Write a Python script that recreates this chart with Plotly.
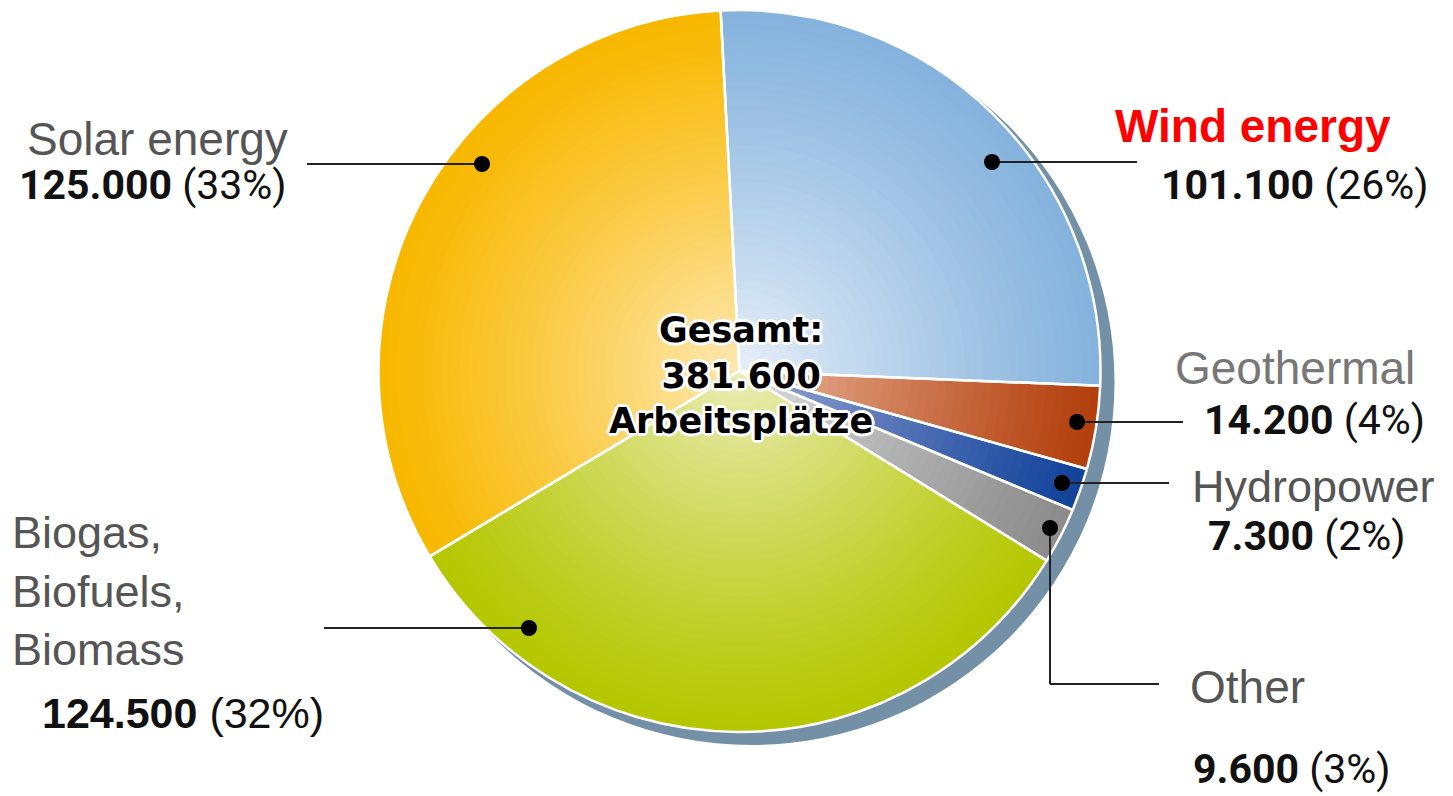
import plotly.graph_objects as go

# ---------------- data ----------------
categories = ["Wind energy", "Geothermal", "Hydropower", "Other",
              "Biogas, Biofuels, Biomass", "Solar energy"]
jobs = [101100, 14200, 7300, 9600, 124500, 125000]
percent = [26, 4, 2, 3, 32, 33]
total_jobs = 381600

# ---------------- style ----------------
OFF = 8                                   # default page body margin
W, H = 1453 - OFF, 796 - OFF
CX, CY, R = 739.5, 371.0, 361.0          # pie centre / radius in page px
SH_DX, SH_DY, SH_DR = 12.0, 11.0, 2.0     # drop shadow offset
edge_cols = ["#86B3DD", "#B3400E", "#13449A", "#8C8C8C", "#B4C700", "#F8B800"]
center_cols = ["#E8F0F9", "#EDBBA2", "#9EA9D8", "#DEDEDE", "#EAEDB8", "#FEE9B6"]
ROT = -3
N_RINGS = 40


def px(x):
    return (x - OFF) / W


def py(y):
    return 1 - (y - OFF) / H


def dom(cx, cy, r):
    return dict(x=[px(cx - r), px(cx + r)], y=[py(cy + r), py(cy - r)])


def hex2rgb(h):
    h = h.lstrip("#")
    return [int(h[i:i + 2], 16) for i in (0, 2, 4)]


def blend(a, b, t):
    ca, cb = hex2rgb(a), hex2rgb(b)
    c = [round(ca[i] + (cb[i] - ca[i]) * t) for i in range(3)]
    return "rgb(%d,%d,%d)" % tuple(c)


fig = go.Figure()

# drop shadow
fig.add_trace(go.Pie(values=[1], labels=["shadow"], marker=dict(colors=["#7390A7"], line=dict(width=0)),
                     textinfo="none", hoverinfo="skip", showlegend=False, sort=False,
                     domain=dom(CX + SH_DX, CY + SH_DY, R + SH_DR)))

# radial gradient rings (largest first)
for k in range(N_RINGS):
    r = R * (N_RINGS - k) / N_RINGS
    t = (1 - r / R) ** 1.15
    cols = [blend(e, c, t) for e, c in zip(edge_cols, center_cols)]
    fig.add_trace(go.Pie(values=jobs, labels=categories, sort=False, direction="clockwise",
                         rotation=ROT, marker=dict(colors=cols, line=dict(width=0)),
                         textinfo="none", hoverinfo="skip", showlegend=False,
                         domain=dom(CX, CY, r)))

# white slice separators / rim
fig.add_trace(go.Pie(values=jobs, labels=categories, sort=False, direction="clockwise",
                     rotation=ROT,
                     marker=dict(colors=["rgba(0,0,0,0)"] * len(jobs), line=dict(color="white", width=2.5)),
                     textinfo="none", hoverinfo="label+value+percent", showlegend=False,
                     domain=dom(CX, CY, R)))

# ---------------- labels ----------------
def fmt(v):
    return f"{v:,}".replace(",", ".")


GREY = "#555555"
SANS = "Liberation Sans, Arial, sans-serif"
DIN = "Roboto, sans-serif"
annots = []


def add(text, x, y, size, color, family, xanchor="left"):
    annots.append(dict(text=text, x=px(x), y=py(y), xref="paper", yref="paper",
                       xanchor=xanchor, yanchor="middle", align="left", showarrow=False,
                       font=dict(size=size, color=color, family=family)))


def val_text(i):
    return f"<b>{fmt(jobs[i])}</b> ({percent[i]}%)"


VS = 41
# Wind
add("<b>Wind energy</b>", 1113, 126, 46, "#FF0000", SANS)
add(val_text(0), 1159, 185, VS, "#111111", DIN)
# Geothermal
add(categories[1], 1173, 368, 46, "#777777", SANS)
add(val_text(1), 1202, 420, VS, "#111111", DIN)
# Hydropower
add(categories[2], 1190, 486, 45, GREY, SANS)
add(val_text(2), 1206, 536, VS, "#111111", DIN)
# Other
add(categories[3], 1188, 687, 46, GREY, SANS)
add(val_text(3), 1191, 769, VS, "#111111", DIN)
# Solar
add(categories[5], 25, 139, 46, GREY, SANS)
add(val_text(5), 17, 185, VS, "#111111", DIN)
# Biomass
add("<br>".join(s.strip() + ("," if j < 2 else "") for j, s in enumerate(categories[4].split(","))),
    10, 591, 45, GREY, SANS)
add(val_text(4), 40, 713, 43, "#111111", SANS)

# centre text
halo = ", ".join(f"{a}px {b}px 0px white" for a, b in
                 [(2, 0), (-2, 0), (0, 2), (0, -2), (2, 2), (-2, -2), (2, -2), (-2, 2),
                  (3, 0), (-3, 0), (0, 3), (0, -3)])
annots.append(dict(text="<b>Gesamt:<br>" + fmt(total_jobs) + "<br>Arbeitsplätze</b>",
                   x=px(741), y=py(375), xref="paper", yref="paper",
                   xanchor="center", yanchor="middle", showarrow=False,
                   font=dict(size=35, color="#000000", family="DejaVu Sans, sans-serif", shadow=halo)))

# ---------------- leader lines ----------------
shapes = []
LC = "#222222"
leaders = [
    [(992, 162), (1137, 162)],
    [(1077, 422), (1183, 422)],
    [(1062, 483), (1169, 483)],
    [(1050, 528), (1050, 684), (1159, 684)],
    [(529, 628), (324, 628)],
    [(482, 164), (307, 164)],
]
for pts in leaders:
    for (x0, y0), (x1, y1) in zip(pts[:-1], pts[1:]):
        shapes.append(dict(type="line", xref="paper", yref="paper",
                           x0=px(x0), y0=py(y0), x1=px(x1), y1=py(y1),
                           line=dict(color=LC, width=2)))
    dx, dy = pts[0]
    rr = 8
    shapes.append(dict(type="circle", xref="paper", yref="paper",
                       x0=px(dx - rr), x1=px(dx + rr), y0=py(dy + rr), y1=py(dy - rr),
                       fillcolor="#000000", line=dict(width=0)))

fig.update_layout(width=W, height=H, margin=dict(l=0, r=0, t=0, b=0),
                  paper_bgcolor="white", plot_bgcolor="white",
                  annotations=annots, shapes=shapes, showlegend=False)

fig.write_html("out.html")
